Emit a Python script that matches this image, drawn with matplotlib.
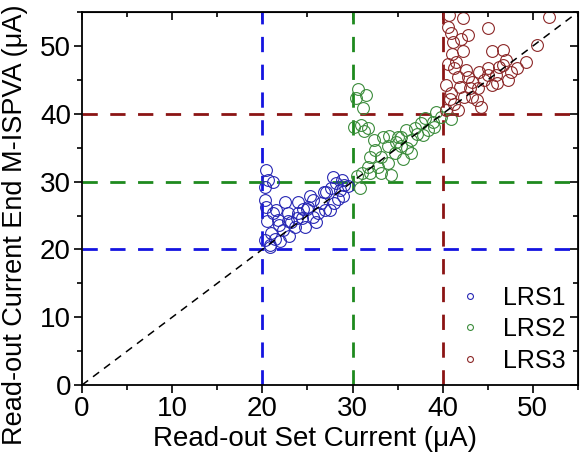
import matplotlib
matplotlib.use('Agg')
import matplotlib.pyplot as plt
from matplotlib.ticker import MultipleLocator

plt.rcParams['font.family'] = ['Liberation Sans', 'DejaVu Sans']

# LRS1 cell states: (set current, current after M-ISPVA), in uA
lrs1_x = [20.45, 21.2, 20.6, 20.3, 20.3, 20.45, 21.2, 22.5, 24.0, 22.9, 24.0, 25.1, 25.6, 26.5, 27.1, 27.8,
          28.8, 29.1, 28.4, 27.5, 25.6, 24.7, 23.6, 22.3, 21.4, 20.3, 20.8, 23.2, 26.2, 28.0, 29.5, 21.0,
          21.8, 22.0, 23.0, 24.4, 25.0, 26.0, 27.0, 28.6, 20.5, 21.5, 22.8, 24.5, 26.8, 27.6, 25.3, 23.8,
          20.9, 21.7, 29.0, 28.2]
lrs1_y = [31.7, 30.0, 30.2, 29.2, 27.3, 26.3, 25.3, 27.0, 27.0, 25.3, 25.3, 26.3, 27.3, 26.8, 28.5, 30.7,
          30.2, 29.5, 27.5, 25.8, 24.8, 23.3, 23.3, 22.9, 21.6, 21.4, 20.4, 24.1, 25.3, 26.8, 29.3, 22.4,
          23.6, 21.2, 22.0, 24.6, 26.0, 24.0, 25.8, 28.8, 24.2, 25.8, 24.2, 26.0, 28.4, 29.0, 27.9, 24.6,
          20.6, 24.4, 27.9, 29.8]

# LRS2
lrs2_x = [30.6, 31.5, 30.4, 31.2, 30.2, 30.97, 31.7, 31.3, 33.4, 32.4, 33.9, 35.0, 35.9, 36.9, 37.6, 38.4,
          39.3, 39.8, 40.9, 38.9, 36.5, 35.4, 36.5, 34.7, 33.2, 31.9, 33.9, 32.8, 31.7, 31.0, 31.9, 33.2,
          34.3, 30.8, 35.4, 37.8, 34.8, 32.5, 30.5, 36.0, 38.0, 39.0, 34.0, 35.6, 37.2]
lrs2_y = [43.7, 42.8, 42.3, 40.8, 38.1, 38.3, 37.9, 37.4, 36.6, 36.1, 35.2, 36.6, 37.6, 37.9, 38.6, 37.6,
          40.3, 39.6, 39.3, 38.8, 36.1, 35.2, 34.2, 34.2, 33.7, 33.7, 32.7, 32.2, 32.2, 31.2, 31.2, 31.2,
          31.0, 29.0, 36.6, 36.9, 35.9, 34.6, 30.8, 35.0, 39.4, 38.0, 36.8, 33.4, 37.0]

# LRS3
lrs3_x = [40.75, 42.2, 40.6, 45.0, 51.8, 40.9, 42.8, 42.0, 41.1, 42.2, 41.5, 40.6, 41.3, 45.5, 46.7, 50.5,
          49.2, 47.0, 46.3, 45.0, 47.6, 45.9, 47.2, 44.6, 42.8, 41.7, 40.4, 41.9, 43.0, 43.9, 45.5, 40.9,
          42.4, 43.3, 41.3, 44.3, 40.4, 41.7, 45.0, 46.7, 43.2, 44.0, 48.2, 46.0, 43.8, 42.6, 41.0, 40.8]
lrs3_y = [54.6, 54.1, 52.8, 52.6, 54.3, 51.9, 51.6, 51.1, 50.6, 49.2, 47.7, 47.4, 46.7, 49.2, 49.4, 50.1,
          47.7, 47.9, 46.9, 46.7, 46.2, 45.7, 45.0, 45.0, 45.5, 45.5, 44.2, 44.0, 43.8, 43.8, 44.2, 43.0,
          42.5, 42.5, 41.5, 41.0, 40.6, 40.6, 45.7, 47.2, 44.7, 46.2, 46.8, 44.6, 42.0, 46.4, 48.8, 42.2]

levels = [20, 30, 40]
level_colors = ['#1414e0', '#1e8a1e', '#8b1414']
marker_colors = ['#2828b4', '#3c8c3c', '#8c2828']
labels = ['LRS1', 'LRS2', 'LRS3']

fig = plt.figure(figsize=(5.8, 4.57), dpi=100)
ax = fig.add_axes([0.1414, 0.1575, 0.855, 0.816])

for lv, c in zip(levels, level_colors):
    ax.axvline(lv, color=c, lw=2, dashes=(5.5, 4.5), zorder=1)
    ax.axhline(lv, color=c, lw=2, dashes=(5.5, 4.5), zorder=1)

ax.plot([0, 55], [0, 55], color='black', lw=1.1, dashes=(5, 4), zorder=3)

series = [(lrs1_x, lrs1_y), (lrs2_x, lrs2_y), (lrs3_x, lrs3_y)]
for (xs, ys), c, lab in zip(series, marker_colors, labels):
    ax.plot(xs, ys, 'o', ms=8.5, mfc='none', mec=c, mew=0.8, label=lab, zorder=2)

ax.set_xlim(0, 55)
ax.set_ylim(0, 55)
ax.xaxis.set_major_locator(MultipleLocator(10))
ax.yaxis.set_major_locator(MultipleLocator(10))
ax.xaxis.set_minor_locator(MultipleLocator(5))
ax.yaxis.set_minor_locator(MultipleLocator(5))
ax.tick_params(which='both', direction='out', width=1.2, labelsize=20, pad=2, top=False, right=False)
ax.tick_params(which='major', length=6)
ax.tick_params(which='minor', length=3.5)

# inward ticks on the mirrored top and right spines
sec_x = ax.secondary_xaxis('top')
sec_x.xaxis.set_major_locator(MultipleLocator(10))
sec_x.xaxis.set_minor_locator(MultipleLocator(5))
sec_x.tick_params(which='both', direction='in', width=1.2, labeltop=False)
sec_x.tick_params(which='major', length=6)
sec_x.tick_params(which='minor', length=3.5)
sec_y = ax.secondary_yaxis('right')
sec_y.yaxis.set_major_locator(MultipleLocator(10))
sec_y.yaxis.set_minor_locator(MultipleLocator(5))
sec_y.tick_params(which='both', direction='in', width=1.2, labelright=False)
sec_y.tick_params(which='major', length=6)
sec_y.tick_params(which='minor', length=3.5)

for sp in ax.spines.values():
    sp.set_linewidth(1.3)

ax.set_xlabel('Read-out Set Current (\u03bcA)', fontsize=20)
ax.set_ylabel('Read-out Current End M-ISPVA (\u03bcA)', fontsize=19.5)
ax.xaxis.set_label_coords(0.47, -0.11)
ax.yaxis.set_label_coords(-0.108, 0.43)

ax.legend(loc='lower right', frameon=False, fontsize=18, markerscale=0.5, handlelength=1.0,
          handletextpad=0.8, labelspacing=0.3, borderaxespad=0.1)

fig.savefig('out.png', dpi=100)
